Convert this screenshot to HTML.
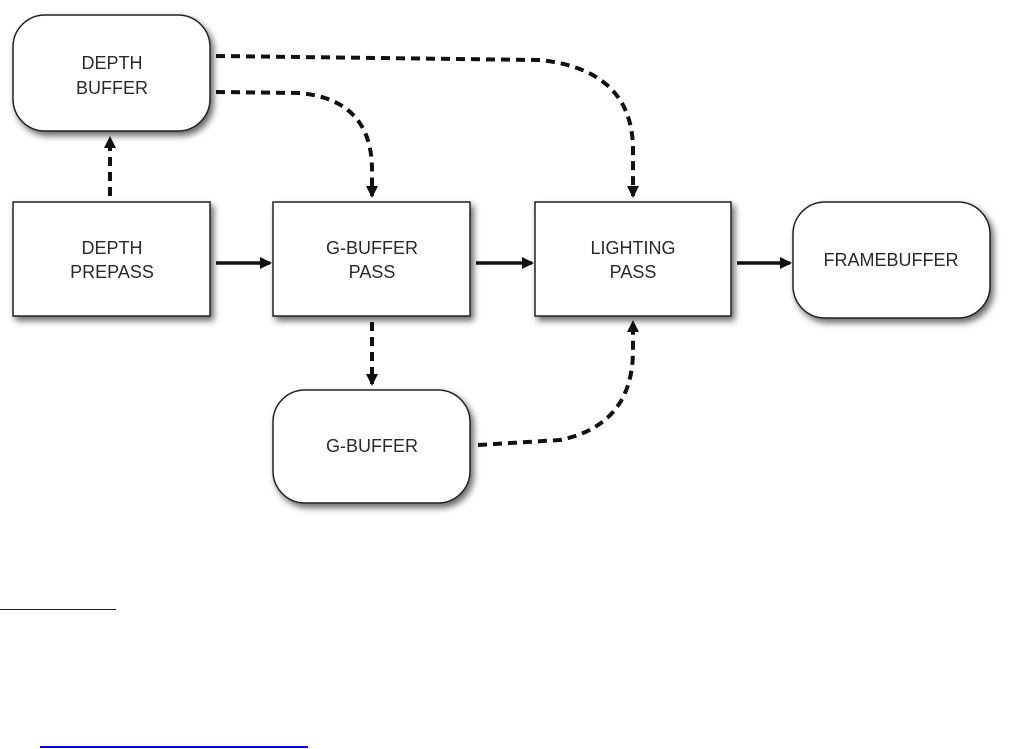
<!DOCTYPE html>
<html><head><style>body{margin:0;background:#fff;width:1021px;height:749px;overflow:hidden}</style></head>
<body>
<svg width="1021" height="749" xmlns="http://www.w3.org/2000/svg" style="position:absolute;left:0;top:0">
<defs>
<filter id="sh" x="-20%" y="-20%" width="150%" height="150%">
<feDropShadow dx="3" dy="4" stdDeviation="3.5" flood-color="#000" flood-opacity="0.6"/>
</filter>
<marker id="ah" markerWidth="14" markerHeight="14" refX="10" refY="6" orient="auto" markerUnits="userSpaceOnUse">
<path d="M0,0 L12,6 L0,12 Z" fill="#111"/>
</marker>
</defs>
<g fill="#fff" stroke="#222" stroke-width="1.5" filter="url(#sh)">
<rect x="13" y="15" width="197" height="116" rx="32"/>
<rect x="13" y="202" width="197" height="114"/>
<rect x="273" y="202" width="197" height="114"/>
<rect x="535" y="202" width="196" height="114"/>
<rect x="793" y="202" width="197" height="116" rx="32"/>
<rect x="273" y="390" width="197" height="113" rx="32"/>
</g>
<g font-family="Liberation Sans, sans-serif" font-size="18" fill="#2a2a2a" text-anchor="middle">
<text x="112" y="69">DEPTH</text><text x="112" y="94">BUFFER</text>
<text x="112" y="254">DEPTH</text><text x="112" y="278">PREPASS</text>
<text x="372" y="254">G-BUFFER</text><text x="372" y="278">PASS</text>
<text x="633" y="254">LIGHTING</text><text x="633" y="278">PASS</text>
<text x="891" y="266">FRAMEBUFFER</text>
<text x="372" y="452">G-BUFFER</text>
</g>
<g stroke="#111" stroke-width="3.5" fill="none" marker-end="url(#ah)">
<line x1="216" y1="263" x2="270" y2="263"/>
<line x1="476" y1="263" x2="532" y2="263"/>
<line x1="737" y1="263" x2="790" y2="263"/>
</g>
<g stroke="#111" stroke-width="4" fill="none" stroke-dasharray="9,6" marker-end="url(#ah)">
<line x1="110" y1="196" x2="110" y2="138"/>
<path d="M216,92 L300,93 Q372,100 372,170 L372,196"/>
<path d="M216,56 L540,60 Q633,70 633,150 L633,196"/>
<line x1="372" y1="322" x2="372" y2="384"/>
<path d="M478,445 L560,440 Q633,425 633,350 L633,322"/>
</g>
<rect x="0" y="609" width="116" height="1" fill="#00f"/>
<rect x="40" y="746" width="268" height="2" fill="#00f"/>
</svg>
</body></html>
